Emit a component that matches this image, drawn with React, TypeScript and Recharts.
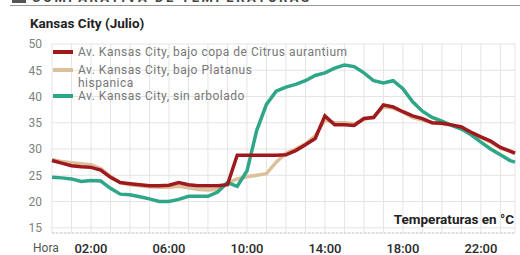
import React from 'react';
import { LineChart, Line, XAxis, YAxis, CartesianGrid } from 'recharts';

// hora del día (0 = 00:00)
const hours = [
  0, 0.5, 1, 1.5, 2, 2.5, 3, 3.5, 4, 4.5, 5, 5.5, 6, 6.5, 7, 7.5, 8, 8.5, 9, 9.5,
  10, 10.5, 11, 11.5, 12, 12.5, 13, 13.5, 14, 14.5, 15, 15.5, 16, 16.5, 17, 17.5,
  18, 18.5, 19, 19.5, 20, 20.5, 21, 21.5, 22, 22.5, 23, 23.5, 23.75,
];

const citrus = [
  27.8, 27.3, 26.8, 26.6, 26.5, 26.0, 24.6, 23.6, 23.4, 23.2, 23.0, 23.0, 23.1, 23.6, 23.2, 23.0, 23.0, 23.0, 23.2, 28.8,
  28.8, 28.8, 28.8, 28.8, 28.9, 29.7, 30.8, 32.0, 36.3, 34.6, 34.6, 34.5, 35.8, 36.0, 38.4, 38.0,
  37.1, 36.3, 35.8, 35.0, 34.9, 34.6, 34.2, 33.2, 32.3, 31.5, 30.3, 29.6, 29.2,
];

const platanus = [
  28.0, 27.6, 27.4, 27.2, 27.0, 26.3, 24.8, 23.6, 23.2, 23.0, 22.8, 22.7, 22.7, 22.9, 22.6, 22.3, 22.2, 22.3, 23.5, 24.3,
  24.7, 25.0, 25.3, 27.5, 29.2, 30.0, 31.0, 32.5, 35.5, 35.0, 35.0, 34.8, 35.6, 36.2, 38.0, 37.8,
  37.0, 36.0, 35.5, 35.0, 34.8, 34.5, 34.0, 33.0, 32.2, 31.3, 30.2, 29.5, 29.1,
];

const sinArbolado = [
  24.6, 24.5, 24.3, 23.8, 24.0, 23.9, 22.5, 21.4, 21.3, 20.9, 20.5, 20.0, 20.0, 20.4, 21.0, 21.0, 21.0, 21.8, 23.6, 22.9,
  25.8, 33.5, 38.5, 41.0, 41.8, 42.3, 43.0, 44.0, 44.5, 45.4, 46.0, 45.7, 44.5, 43.0, 42.6, 43.0,
  41.5, 39.0, 37.2, 36.0, 35.3, 34.5, 33.8, 32.7, 31.3, 30.0, 28.9, 27.8, 27.5,
];

const yTicks = [15, 20, 25, 30, 35, 40, 45, 50];
const gridHours = [0, 1, 2, 3, 4, 5, 6, 7, 8, 9, 10, 11, 12, 13, 14, 15, 16, 17, 18, 19, 20, 21, 22, 23];
const labelHours = [2, 6, 10, 14, 18, 22];
const labelTexts = ['02:00', '06:00', '10:00', '14:00', '18:00', '22:00'];

const series = [
  { key: 'citrus', lines: ['Av. Kansas City, bajo copa de Citrus aurantium'], color: '#9e1a1e' },
  { key: 'platanus', lines: ['Av. Kansas City, bajo Platanus', 'hispanica'], color: '#dcc09c' },
  { key: 'sin', lines: ['Av. Kansas City, sin arbolado'], color: '#2ea687' },
];
const legendTops = [45.5, 63.5, 89.5];

const data = hours.map((h, i) => ({
  h,
  citrus: citrus[i],
  platanus: platanus[i],
  sin: sinArbolado[i],
}));

const font = 'Roboto, "Liberation Sans", sans-serif';

const fmtHour = (h: number) => {
  const i = labelHours.indexOf(h);
  return i >= 0 ? labelTexts[i] : '';
};

export default function App() {
  return (
    <div style={{ position: 'absolute', left: 0, top: 0, width: 520, height: 255, background: '#fff', fontFamily: font, overflow: 'hidden' }}>
      {/* cabecera cortada */}
      <div style={{ position: 'absolute', left: 12, top: 0, width: 300, height: 4, overflow: 'hidden' }}>
        <div style={{ position: 'absolute', left: 0, top: -9, width: 14, height: 12, background: '#555' }} />
        <div style={{ position: 'absolute', left: 20, top: -10, fontSize: 13, fontWeight: 700, letterSpacing: 2.5, color: '#444', whiteSpace: 'nowrap' }}>
          COMPARATIVA DE TEMPERATURAS
        </div>
      </div>
      <div style={{ position: 'absolute', left: 10, top: 5, width: 510, height: 1, background: '#999' }} />

      <div style={{ position: 'absolute', left: 30, top: 15, fontSize: 13.5, fontWeight: 700, color: '#222' }}>
        Kansas City (Julio)
      </div>

      <LineChart width={520} height={255} data={data} margin={{ top: 44, right: 5, bottom: 0, left: 8 }}>
        <CartesianGrid stroke="#e4e4e4" strokeWidth={1} />
        <XAxis
          dataKey="h"
          type="number"
          domain={[0, 23.75]}
          ticks={gridHours}
          interval={0}
          tickFormatter={fmtHour}
          height={22}
          tickLine={false}
          tickSize={0}
          tickMargin={11}
          axisLine={{ stroke: '#ccc', strokeDasharray: '2 2' }}
          tick={{ fill: '#2a2a2a', fontSize: 13, fontFamily: font, fontWeight: 500 }}
        />
        <YAxis
          type="number"
          domain={[14, 50]}
          ticks={yTicks}
          interval={0}
          width={44}
          tickLine={false}
          axisLine={false}
          tickSize={6}
          tickMargin={4}
          tick={{ fill: '#808080', fontSize: 12, fontFamily: font }}
        />
        <Line dataKey="platanus" stroke="#dcc09c" strokeWidth={3.5} dot={false} isAnimationActive={false} />
        <Line dataKey="sin" stroke="#2ea687" strokeWidth={3.5} dot={false} isAnimationActive={false} />
        <Line dataKey="citrus" stroke="#9e1a1e" strokeWidth={3.5} dot={false} isAnimationActive={false} />
      </LineChart>

      {/* leyenda */}
      {series.map((s, i) => (
        <div
          key={s.key}
          style={{ position: 'absolute', left: 53, top: legendTops[i], display: 'flex', alignItems: 'flex-start', fontSize: 12, letterSpacing: 0.5, lineHeight: '13px', color: '#777' }}
        >
          <div style={{ width: 20, height: 4, background: s.color, marginTop: 4.5, marginRight: 5, flexShrink: 0 }} />
          <div>
            {s.lines.map((t) => (
              <div key={t} style={{ whiteSpace: 'nowrap' }}>{t}</div>
            ))}
          </div>
        </div>
      ))}

      <div style={{ position: 'absolute', left: 33, top: 241, fontSize: 12, color: '#555' }}>Hora</div>
      <div style={{ position: 'absolute', right: 6, top: 211, fontSize: 13.5, fontWeight: 700, color: '#222' }}>
        Temperaturas en °C
      </div>
    </div>
  );
}
